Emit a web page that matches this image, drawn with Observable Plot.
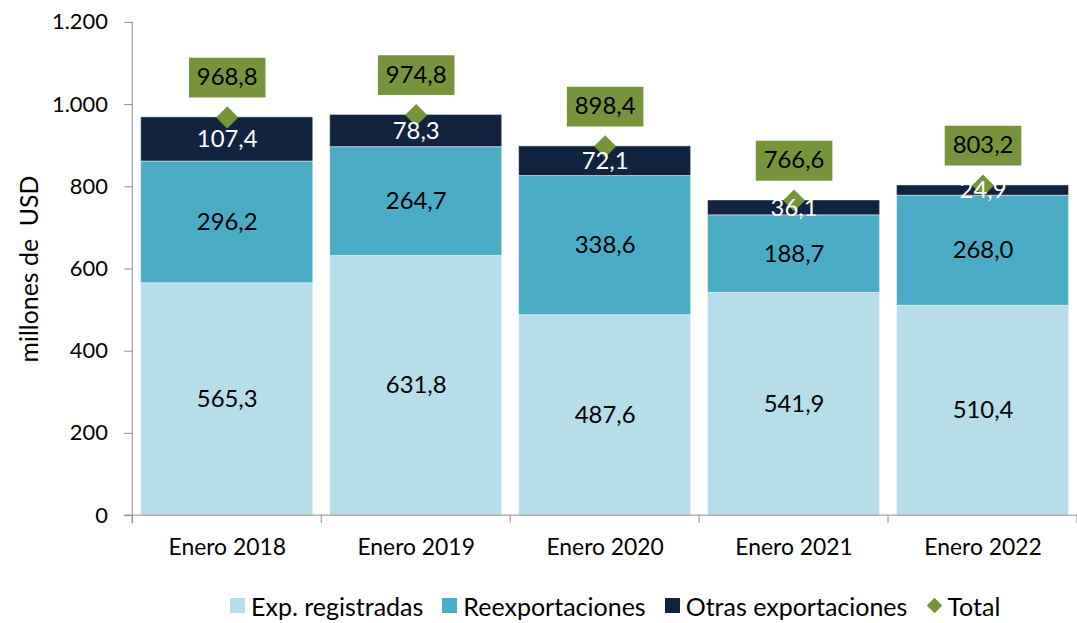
<!DOCTYPE html>
<html>
<head>
<meta charset="utf-8">
<script src="https://cdn.jsdelivr.net/npm/d3@7"></script>
<script src="https://cdn.jsdelivr.net/npm/@observablehq/plot@0.6"></script>
<style>
  html, body { margin: 0; padding: 0; background: #fff; overflow: hidden; }
  body { width: 1077px; height: 623px; font-family: Lato, "Open Sans", sans-serif; }
  #legend { display: flex; align-items: center; height: 28px; padding-top: 15px; padding-left: 230px; font-size: 25px; color: #000; }
  .item { display: flex; align-items: center; margin-right: 19px; white-space: nowrap; }
  .sw { width: 15px; height: 15px; margin-right: 6px; }
  .dia { width: 11px; height: 11px; transform: rotate(45deg); margin: 0 7px 0 3px; }
</style>
</head>
<body>
<div id="chart"></div>
<div id="legend"></div>
<script>
const categories = ["Enero 2018", "Enero 2019", "Enero 2020", "Enero 2021", "Enero 2022"];
const seriesNames = ["Exp. registradas", "Reexportaciones", "Otras exportaciones"];
const expRegistradas = [565.3, 631.8, 487.6, 541.9, 510.4];
const reexportaciones = [296.2, 264.7, 338.6, 188.7, 268.0];
const otrasExportaciones = [107.4, 78.3, 72.1, 36.1, 24.9];
const totals = [968.8, 974.8, 898.4, 766.6, 803.2];
const yTicks = [0, 200, 400, 600, 800, 1000, 1200];
const seriesColors = ["#B7DDE8", "#4BACC6", "#12233F"];
const totalColor = "#77933C";
const axisColor = "#8c8c8c";

const seriesValues = [expRegistradas, reexportaciones, otrasExportaciones];
const rows = [];
categories.forEach((c, i) => {
  let acc = 0;
  seriesNames.forEach((s, j) => {
    const v = seriesValues[j][i];
    rows.push({category: c, series: s, value: v, y1: acc, y2: acc + v, mid: acc + v / 2});
    acc += v;
  });
});
const totalRows = categories.map((c, i) => ({category: c, total: totals[i]}));

const fmt = v => v.toFixed(1).replace(".", ",");
const fmtTick = v => d3.format(",")(v).replace(/,/g, ".");

const rectSymbol = { draw(ctx) { ctx.rect(-38.5, -20, 77, 40); } };

function axisDecor(index, scales, values, dimensions) {
  const {width, height, marginLeft, marginRight, marginTop, marginBottom} = dimensions;
  const ns = "http://www.w3.org/2000/svg";
  const g = document.createElementNS(ns, "g");
  g.setAttribute("stroke", axisColor);
  g.setAttribute("stroke-width", "1");
  const y0 = height - marginBottom;
  const step = (width - marginLeft - marginRight) / categories.length;
  const xs = categories.map(c => scales.x(c));
  xs.push(xs[xs.length - 1] + step);
  xs.forEach(x => {
    const l = document.createElementNS(ns, "line");
    l.setAttribute("x1", x); l.setAttribute("x2", x);
    l.setAttribute("y1", y0); l.setAttribute("y2", y0 + 8);
    g.appendChild(l);
  });
  const v = document.createElementNS(ns, "line");
  v.setAttribute("x1", marginLeft); v.setAttribute("x2", marginLeft);
  v.setAttribute("y1", marginTop); v.setAttribute("y2", y0 + 8);
  g.appendChild(v);
  const h = document.createElementNS(ns, "line");
  h.setAttribute("x1", marginLeft - 8); h.setAttribute("x2", width);
  h.setAttribute("y1", y0); h.setAttribute("y2", y0);
  g.appendChild(h);
  return g;
}

const chart = Plot.plot({
  width: 1083,
  height: 580,
  marginLeft: 133,
  marginRight: 0,
  marginTop: 22,
  marginBottom: 62,
  style: { fontFamily: "Lato, 'Open Sans', sans-serif", fontSize: "21px", color: "#000", background: "#fff" },
  x: { domain: categories, padding: 0, label: null },
  y: { domain: [0, 1200], label: null },
  color: { domain: seriesNames, range: seriesColors },
  marks: [
    Plot.axisX({ tickSize: 0, tickPadding: 23, fontSize: 23, label: null }),
    Plot.axisY({ ticks: yTicks, tickFormat: fmtTick, tickSize: 8, tickPadding: 17, fontSize: 22, stroke: axisColor, label: null }),
    Plot.text(["millones de\u00a0 USD"], { frameAnchor: "left", dx: -103, rotate: -90, textAnchor: "middle", fontSize: 25, fill: "#000" }),
    Plot.barY(rows, { x: "category", y1: "y1", y2: "y2", fill: "series", insetLeft: 8.5, insetRight: 8.5, stroke: "#ffffff", strokeOpacity: 0.45, strokeWidth: 1 }),
    axisDecor,
    Plot.text(rows.filter(d => d.series !== "Otras exportaciones"), { x: "category", y: "mid", text: d => fmt(d.value), fill: "#000", fontSize: 24 }),
    Plot.dot(totalRows, { x: "category", y: "total", symbol: "diamond2", r: 10, fill: totalColor, stroke: null }),
    Plot.text(rows.filter(d => d.series === "Otras exportaciones"), { x: "category", y: "mid", text: d => fmt(d.value), fill: "#fff", fontSize: 24 }),
    Plot.dot(totalRows, { x: "category", y: "total", symbol: rectSymbol, r: 10, dy: -40, fill: totalColor, stroke: null }),
    Plot.text(totalRows, { x: "category", y: "total", dy: -40, text: d => fmt(d.total), fill: "#000", fontSize: 24 })
  ]
});
document.getElementById("chart").appendChild(chart);

const legend = document.getElementById("legend");
seriesNames.forEach((s, i) => {
  const it = document.createElement("div"); it.className = "item";
  const sw = document.createElement("div"); sw.className = "sw"; sw.style.background = seriesColors[i];
  const t = document.createElement("span"); t.textContent = s;
  it.appendChild(sw); it.appendChild(t); legend.appendChild(it);
});
{
  const it = document.createElement("div"); it.className = "item";
  const sw = document.createElement("div"); sw.className = "dia"; sw.style.background = totalColor;
  const t = document.createElement("span"); t.textContent = "Total";
  it.appendChild(sw); it.appendChild(t); legend.appendChild(it);
}
</script>
</body>
</html>
